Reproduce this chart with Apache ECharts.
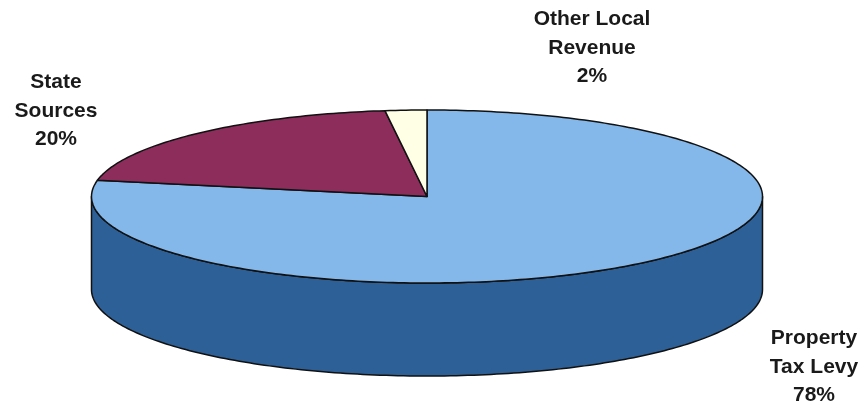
<!DOCTYPE html>
<html>
<head>
<meta charset="utf-8">
<script src="https://cdn.jsdelivr.net/npm/echarts@6/dist/echarts.min.js"></script>
<style>
html,body{margin:0;padding:0;background:#fff;}
#chart{width:862px;height:403px;}
</style>
</head>
<body>
<div id="chart"></div>
<script>
// ---- data ----
const categories = ['Property Tax Levy', 'State Sources', 'Other Local Revenue'];
const labelLines = ['Property\nTax Levy', 'State\nSources', 'Other Local\nRevenue'];
const values = [78, 20, 2];

// ---- style / layout ----
const topColors = ['#84B8EA', '#8C2D5C', '#FFFFE6'];
const sideColors = ['#2E6098', '#5E1E3E', '#CFCFB0'];
const labelPos = [[814, 367], [56, 111], [592, 48]];
const geo = { cx: 427, cy: 196.5, rx: 335.5, ry: 86.5, depth: 93 };

const total = values.reduce((a, b) => a + b, 0);
const starts = [];
let acc = 0;
values.forEach(v => { starts.push(acc); acc += v; });

function pt(deg, dy) {
  const r = deg * Math.PI / 180;
  return [geo.cx + geo.rx * Math.sin(r), geo.cy - geo.ry * Math.cos(r) + (dy || 0)];
}
function arc(a0, a1, dy) {
  const pts = [];
  const n = Math.max(2, Math.ceil(Math.abs(a1 - a0) / 1));
  for (let k = 0; k <= n; k++) pts.push(pt(a0 + (a1 - a0) * k / n, dy));
  return pts;
}

const chart = echarts.init(document.getElementById('chart'), null, { renderer: 'canvas' });
chart.setOption({
  animation: false,
  backgroundColor: '#ffffff',
  series: [{
    type: 'custom',
    coordinateSystem: 'none',
    data: values.map((v, i) => ({ name: categories[i], value: [v, starts[i]] })),
    renderItem: function (params, api) {
      const i = params.dataIndex;
      const v = api.value(0);
      const s = api.value(1);
      const a0 = s / total * 360;
      const a1 = (s + v) / total * 360;
      const children = [];
      const s0 = Math.max(a0, 90), s1 = Math.min(a1, 270);
      if (s1 > s0) {
        const pts = arc(s0, s1, 0).concat(arc(s1, s0, geo.depth));
        children.push({
          type: 'polygon', z2: 1,
          shape: { points: pts },
          style: { fill: sideColors[i], stroke: '#111', lineWidth: 1.5, lineJoin: 'round' }
        });
      }
      const top = [[geo.cx, geo.cy]].concat(arc(a0, a1, 0));
      children.push({
        type: 'polygon', z2: 2,
        shape: { points: top },
        style: { fill: topColors[i], stroke: '#111', lineWidth: 1.5, lineJoin: 'round' }
      });
      const pct = Math.round(v / total * 100) + '%';
      children.push({
        type: 'text', z2: 5,
        x: labelPos[i][0], y: labelPos[i][1],
        style: {
          text: labelLines[i] + '\n' + pct,
          fill: '#1a1a1a',
          font: 'bold 21px "Liberation Sans", Arial, sans-serif',
          lineHeight: 28.5,
          align: 'center',
          verticalAlign: 'middle'
        }
      });
      return { type: 'group', children: children };
    }
  }]
});
</script>
</body>
</html>
